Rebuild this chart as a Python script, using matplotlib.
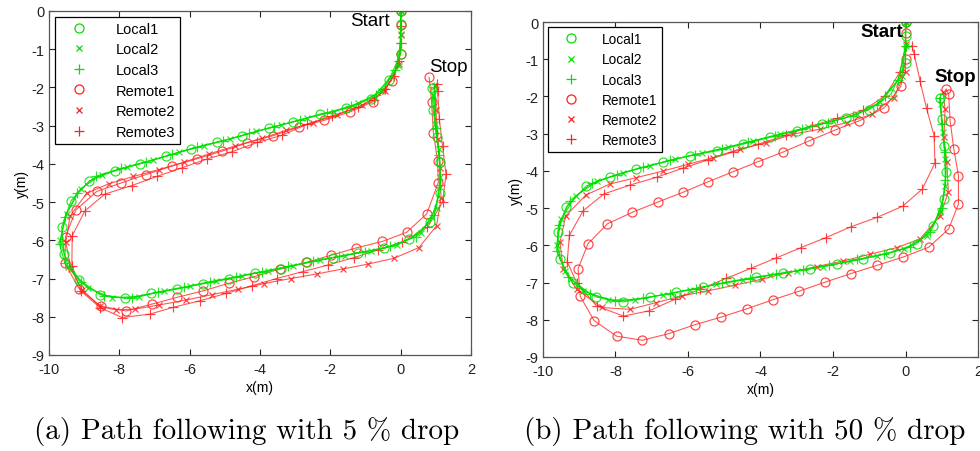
import matplotlib
matplotlib.use("Agg")
import matplotlib.pyplot as plt
from matplotlib.lines import Line2D

plt.rcParams['axes.unicode_minus'] = False
plt.rcParams['font.family'] = ['Liberation Sans', 'DejaVu Sans']

# ---------------- (a) 5 % drop ----------------
a_local1_x = [0, 0, 0, -0.33, -0.85, -1.55, -2.3, -3.05, -3.75, -4.5, -5.23, -5.96, -6.68, -7.41, -8.12, -8.85, -9.37, -9.64, -9.57, -9.15, -8.55, -7.83, -7.1, -6.35, -5.61, -4.87, -4.14, -3.4, -2.67, -1.93, -1.2, -0.46, 0.25, 0.83, 1.12, 1.12, 1.02, 0.93, 0.88]
a_local1_y = [0, -0.33, -1.12, -1.8, -2.3, -2.55, -2.7, -2.9, -3.06, -3.26, -3.43, -3.6, -3.8, -4.0, -4.18, -4.44, -4.96, -5.65, -6.37, -7.03, -7.42, -7.52, -7.39, -7.27, -7.13, -7.0, -6.86, -6.74, -6.58, -6.45, -6.32, -6.21, -5.97, -5.53, -4.75, -3.95, -3.3, -2.6, -2.02]
a_local2_x = [0, 0, -0.05, -0.55, -1.2, -1.9, -2.65, -3.4, -4.1, -4.85, -5.6, -6.3, -7.05, -7.78, -8.5, -9.1, -9.5, -9.68, -9.45, -8.9, -8.2, -7.45, -6.72, -5.98, -5.25, -4.5, -3.78, -3.05, -2.3, -1.58, -0.85, -0.1, 0.58, 1.02, 1.13, 1.08, 0.98, 0.93]
a_local2_y = [0, -0.6, -1.45, -2.1, -2.42, -2.63, -2.8, -2.98, -3.15, -3.35, -3.52, -3.7, -3.9, -4.08, -4.28, -4.65, -5.3, -6.0, -6.7, -7.25, -7.5, -7.47, -7.33, -7.2, -7.07, -6.93, -6.8, -6.66, -6.52, -6.4, -6.27, -6.12, -5.8, -5.15, -4.35, -3.62, -2.95, -2.2]
a_local3_x = [0, 0, -0.15, -0.7, -1.4, -2.1, -2.85, -3.6, -4.3, -5.05, -5.8, -6.5, -7.25, -7.95, -8.65, -9.2, -9.55, -9.7, -9.55, -9.1, -8.45, -7.65, -6.9, -6.15, -5.42, -4.68, -3.95, -3.2, -2.48, -1.75, -1.02, -0.3, 0.45, 0.95, 1.12, 1.1, 1.0, 0.95]
a_local3_y = [0, -0.85, -1.55, -2.2, -2.48, -2.67, -2.85, -3.03, -3.2, -3.4, -3.57, -3.75, -3.95, -4.12, -4.32, -4.75, -5.4, -6.1, -6.6, -7.1, -7.45, -7.52, -7.35, -7.22, -7.08, -6.95, -6.82, -6.68, -6.55, -6.42, -6.3, -6.16, -5.9, -5.35, -4.55, -3.78, -3.05, -2.0]
a_remote1_x = [0, 0, 0, -0.26, -0.78, -1.44, -2.17, -2.89, -3.62, -4.36, -5.09, -5.8, -6.51, -7.25, -7.95, -8.64, -9.23, -9.53, -9.55, -9.14, -8.53, -7.81, -7.08, -6.35, -5.61, -4.87, -4.16, -3.43, -2.69, -1.98, -1.27, -0.52, 0.17, 0.74, 1.07, 1.05, 0.93, 0.88, 0.81]
a_remote1_y = [0, -0.36, -1.12, -1.82, -2.37, -2.64, -2.86, -3.03, -3.26, -3.45, -3.67, -3.87, -4.06, -4.28, -4.5, -4.72, -5.2, -5.9, -6.6, -7.27, -7.72, -7.85, -7.67, -7.49, -7.32, -7.12, -6.95, -6.75, -6.58, -6.39, -6.2, -6.03, -5.79, -5.31, -4.49, -3.92, -3.18, -2.39, -1.74]
a_remote2_x = [0, 0, -0.05, -0.45, -1.1, -1.8, -2.5, -3.25, -3.95, -4.7, -5.45, -6.15, -6.88, -7.6, -8.3, -8.93, -9.4, -9.52, -9.38, -9.05, -8.55, -8.1, -7.56, -6.86, -6.09, -5.36, -4.62, -3.88, -3.13, -2.39, -1.65, -0.92, -0.19, 0.52, 1.02, 1.15, 1.12, 1.06, 1.0, 0.97]
a_remote2_y = [0, -0.62, -1.4, -2.1, -2.47, -2.72, -2.92, -3.12, -3.33, -3.53, -3.74, -3.95, -4.15, -4.33, -4.52, -4.77, -5.36, -6.05, -6.75, -7.3, -7.73, -7.82, -7.8, -7.69, -7.56, -7.42, -7.28, -7.13, -7.0, -6.88, -6.75, -6.62, -6.47, -6.19, -5.62, -4.9, -4.1, -3.35, -2.6, -1.95]
a_remote3_x = [0, 0, 0, -0.05, -0.2, -0.45, -0.75, -1.2, -1.94, -2.66, -3.37, -4.08, -4.79, -5.5, -6.21, -6.94, -7.65, -8.41, -8.98, -9.34, -9.35, -9.1, -8.55, -7.92, -7.13, -6.46, -5.7, -4.97, -4.24, -3.53, -2.79, -2.08, -1.32, -0.65, 0.05, 0.76, 1.19, 1.29, 1.19, 1.1, 1.05, 1.02]
a_remote3_y = [0, -0.4, -0.85, -1.3, -1.7, -2.05, -2.32, -2.52, -2.74, -2.96, -3.25, -3.44, -3.68, -3.87, -4.1, -4.33, -4.57, -4.79, -5.23, -5.88, -6.67, -7.32, -7.76, -8.02, -7.93, -7.75, -7.58, -7.39, -7.19, -7.0, -6.82, -6.65, -6.45, -6.25, -6.05, -5.66, -5.01, -4.27, -3.53, -2.83, -2.1, -1.9]

# ---------------- (b) 50 % drop ----------------
b_local1_x = [0, 0, 0, -0.4, -1.0, -1.65, -2.3, -3.0, -3.74, -4.48, -5.21, -5.95, -6.69, -7.42, -8.16, -8.8, -9.36, -9.59, -9.54, -9.17, -8.53, -7.79, -7.05, -6.32, -5.58, -4.84, -4.11, -3.37, -2.63, -1.9, -1.16, -0.42, 0.31, 0.77, 1.05, 1.12, 1.07, 1.0, 0.94]
b_local1_y = [0, -0.38, -1.09, -1.94, -2.35, -2.57, -2.74, -2.92, -3.1, -3.28, -3.46, -3.59, -3.77, -3.95, -4.17, -4.4, -4.98, -5.65, -6.36, -7.02, -7.39, -7.52, -7.39, -7.26, -7.12, -6.97, -6.85, -6.74, -6.63, -6.5, -6.36, -6.2, -5.96, -5.47, -4.75, -4.04, -3.32, -2.61, -2.03]
b_local2_x = [0, 0, -0.1, -0.7, -1.35, -2.0, -2.7, -3.45, -4.2, -4.9, -5.6, -6.35, -7.05, -7.8, -8.5, -9.1, -9.5, -9.62, -9.4, -8.9, -8.2, -7.45, -6.7, -5.95, -5.22, -4.48, -3.75, -3.0, -2.27, -1.53, -0.8, -0.05, 0.58, 0.95, 1.1, 1.1, 1.03, 0.97]
b_local2_y = [0, -0.65, -1.45, -2.15, -2.48, -2.66, -2.83, -3.01, -3.19, -3.36, -3.52, -3.68, -3.86, -4.05, -4.27, -4.68, -5.3, -6.0, -6.7, -7.22, -7.47, -7.46, -7.33, -7.19, -7.05, -6.92, -6.8, -6.69, -6.57, -6.43, -6.28, -6.1, -5.75, -5.1, -4.4, -3.68, -2.96, -2.2]
b_local3_x = [0, 0, -0.2, -0.8, -1.45, -2.15, -2.85, -3.6, -4.35, -5.05, -5.8, -6.5, -7.25, -7.95, -8.65, -9.25, -9.57, -9.62, -9.3, -8.7, -8.0, -7.25, -6.5, -5.78, -5.05, -4.3, -3.58, -2.83, -2.1, -1.35, -0.6, 0.12, 0.68, 1.0, 1.1, 1.08, 1.0, 0.95]
b_local3_y = [0, -0.65, -1.55, -2.22, -2.52, -2.7, -2.87, -3.05, -3.23, -3.4, -3.56, -3.72, -3.9, -4.1, -4.33, -4.8, -5.45, -6.15, -6.85, -7.3, -7.5, -7.42, -7.3, -7.16, -7.02, -6.9, -6.78, -6.66, -6.53, -6.38, -6.24, -6.05, -5.65, -5.0, -4.25, -3.5, -2.75, -2.05]
b_remote1_x = [0, 0, 0, -0.13, -0.58, -1.27, -1.94, -2.65, -3.37, -4.06, -4.75, -5.44, -6.15, -6.84, -7.53, -8.22, -8.76, -9.03, -8.97, -8.59, -7.97, -7.26, -6.52, -5.8, -5.09, -4.36, -3.65, -2.93, -2.22, -1.51, -0.79, -0.08, 0.64, 1.19, 1.46, 1.46, 1.33, 1.23, 1.19, 1.12]
b_remote1_y = [0, -0.3, -1.0, -1.73, -2.3, -2.65, -2.9, -3.19, -3.49, -3.75, -4.02, -4.29, -4.58, -4.84, -5.11, -5.42, -5.96, -6.63, -7.37, -8.02, -8.44, -8.55, -8.37, -8.13, -7.93, -7.7, -7.46, -7.23, -6.99, -6.76, -6.54, -6.32, -6.05, -5.56, -4.89, -4.13, -3.4, -2.65, -1.94, -1.8]
b_remote2_x = [0, 0, 0, -0.33, -0.93, -1.62, -2.36, -3.1, -3.85, -4.57, -5.3, -5.99, -6.68, -7.42, -8.15, -8.82, -9.37, -9.53, -9.44, -9.07, -8.38, -7.6, -6.88, -6.17, -5.44, -4.7, -3.97, -3.23, -2.45, -1.72, -0.98, -0.24, 0.4, 0.95, 1.18, 1.14, 1.06, 1.09, 1.04]
b_remote2_y = [0, -0.6, -1.35, -2.03, -2.48, -2.7, -2.88, -3.01, -3.25, -3.41, -3.64, -3.82, -4.0, -4.18, -4.35, -4.65, -5.21, -5.92, -6.64, -7.18, -7.67, -7.72, -7.54, -7.36, -7.22, -7.07, -6.91, -6.73, -6.57, -6.42, -6.24, -6.06, -5.83, -5.21, -4.58, -3.77, -3.1, -2.34, -1.89]
b_remote3_x = [0, 0, -0.15, -0.56, -1.16, -1.9, -2.59, -3.3, -4.06, -4.75, -5.44, -6.15, -6.86, -7.6, -8.32, -8.89, -9.27, -9.33, -9.07, -8.52, -7.78, -7.07, -6.36, -5.67, -4.95, -4.27, -3.57, -2.88, -2.19, -1.5, -0.79, -0.08, 0.46, 0.81, 0.79, 0.58, 0.4, 0.24, 0.17]
b_remote3_y = [0, -0.64, -1.34, -1.98, -2.37, -2.59, -2.79, -3.04, -3.28, -3.49, -3.7, -3.93, -4.17, -4.38, -4.62, -5.07, -5.73, -6.44, -7.0, -7.63, -7.9, -7.76, -7.45, -7.18, -6.89, -6.62, -6.34, -6.06, -5.79, -5.5, -5.25, -4.95, -4.49, -3.79, -3.06, -2.32, -1.58, -0.86, -0.64]

labels = ['Local1', 'Local2', 'Local3', 'Remote1', 'Remote2', 'Remote3']
markers = ['o', 'x', '+', 'o', 'x', '+']
msizes = {'o': 6.5, 'x': 5, '+': 7}
green = '#00e000'
red = '#ff2020'

xticks = [-10, -8, -6, -4, -2, 0, 2]
yticks = [0, -1, -2, -3, -4, -5, -6, -7, -8, -9]

fig = plt.figure(figsize=(9.8, 4.52), dpi=100)
ax_a = fig.add_axes([0.05, 0.2124, 0.4306, 0.7611])
ax_b = fig.add_axes([0.554, 0.208, 0.444, 0.741])

series_a = [(a_local1_x, a_local1_y), (a_local2_x, a_local2_y), (a_local3_x, a_local3_y),
            (a_remote1_x, a_remote1_y), (a_remote2_x, a_remote2_y), (a_remote3_x, a_remote3_y)]
series_b = [(b_local1_x, b_local1_y), (b_local2_x, b_local2_y), (b_local3_x, b_local3_y),
            (b_remote1_x, b_remote1_y), (b_remote2_x, b_remote2_y), (b_remote3_x, b_remote3_y)]


def draw_panel(ax, series, bold, leg_size, leg_pad, start_x, stop_x):
    # remotes first so the green runs sit on top like in the original
    for i in [3, 4, 5, 0, 1, 2]:
        xs, ys = series[i]
        col = green if i < 3 else red
        ax.plot(xs, ys, '-', color=col, lw=0.8, alpha=0.75 if i >= 3 else 0.9)
        ax.plot(xs, ys, linestyle='none', marker=markers[i], ms=msizes[markers[i]],
                mfc='none', mec=col, mew=0.85, alpha=0.85)
    ax.set_xlim(-10, 2)
    ax.set_ylim(-9, 0)
    ax.set_xticks(xticks)
    ax.set_yticks(yticks)
    ax.tick_params(direction='in', top=True, right=True, length=4, width=0.8,
                   labelsize=10.5, colors='#222222')
    ax.tick_params(axis='x', pad=5)
    ax.tick_params(axis='y', pad=3)
    for sp in ax.spines.values():
        sp.set_color('#555555')
        sp.set_linewidth(0.9)
    ax.set_xlabel('x(m)', fontsize=10, labelpad=3)
    ax.set_ylabel('y(m)', fontsize=10, labelpad=2)
    handles = [Line2D([], [], linestyle='none', marker=markers[i], ms=msizes[markers[i]],
                      mfc='none', mec=green if i < 3 else red, mew=0.9) for i in range(6)]
    leg = ax.legend(handles, labels, loc='upper left', frameon=True,
                    prop={'size': leg_size},
                    fancybox=False, edgecolor='black', framealpha=1,
                    handlelength=2.6, handletextpad=leg_pad, labelspacing=0.45,
                    borderpad=0.35, borderaxespad=0.4)
    leg.get_frame().set_linewidth(0.9)
    w = 'bold' if bold else 'normal'
    ax.text(start_x, -0.25, 'Start', fontsize=13.5, fontweight=w, ha='right', va='center')
    ax.text(stop_x, -1.45, 'Stop', fontsize=13.5, fontweight=w, ha='right', va='center')


draw_panel(ax_a, series_a, False, 10.5, 1.2, -0.3, 1.9)
draw_panel(ax_b, series_b, True, 9.8, 1.0, -0.07, 1.95)

fig.text(0.252, 0.046, '(a) Path following with 5 % drop', family='cmr10',
         fontsize=21, ha='center', va='center')
fig.text(0.76, 0.046, '(b) Path following with 50 % drop', family='cmr10',
         fontsize=21, ha='center', va='center')

fig.savefig('out.png', dpi=100)
